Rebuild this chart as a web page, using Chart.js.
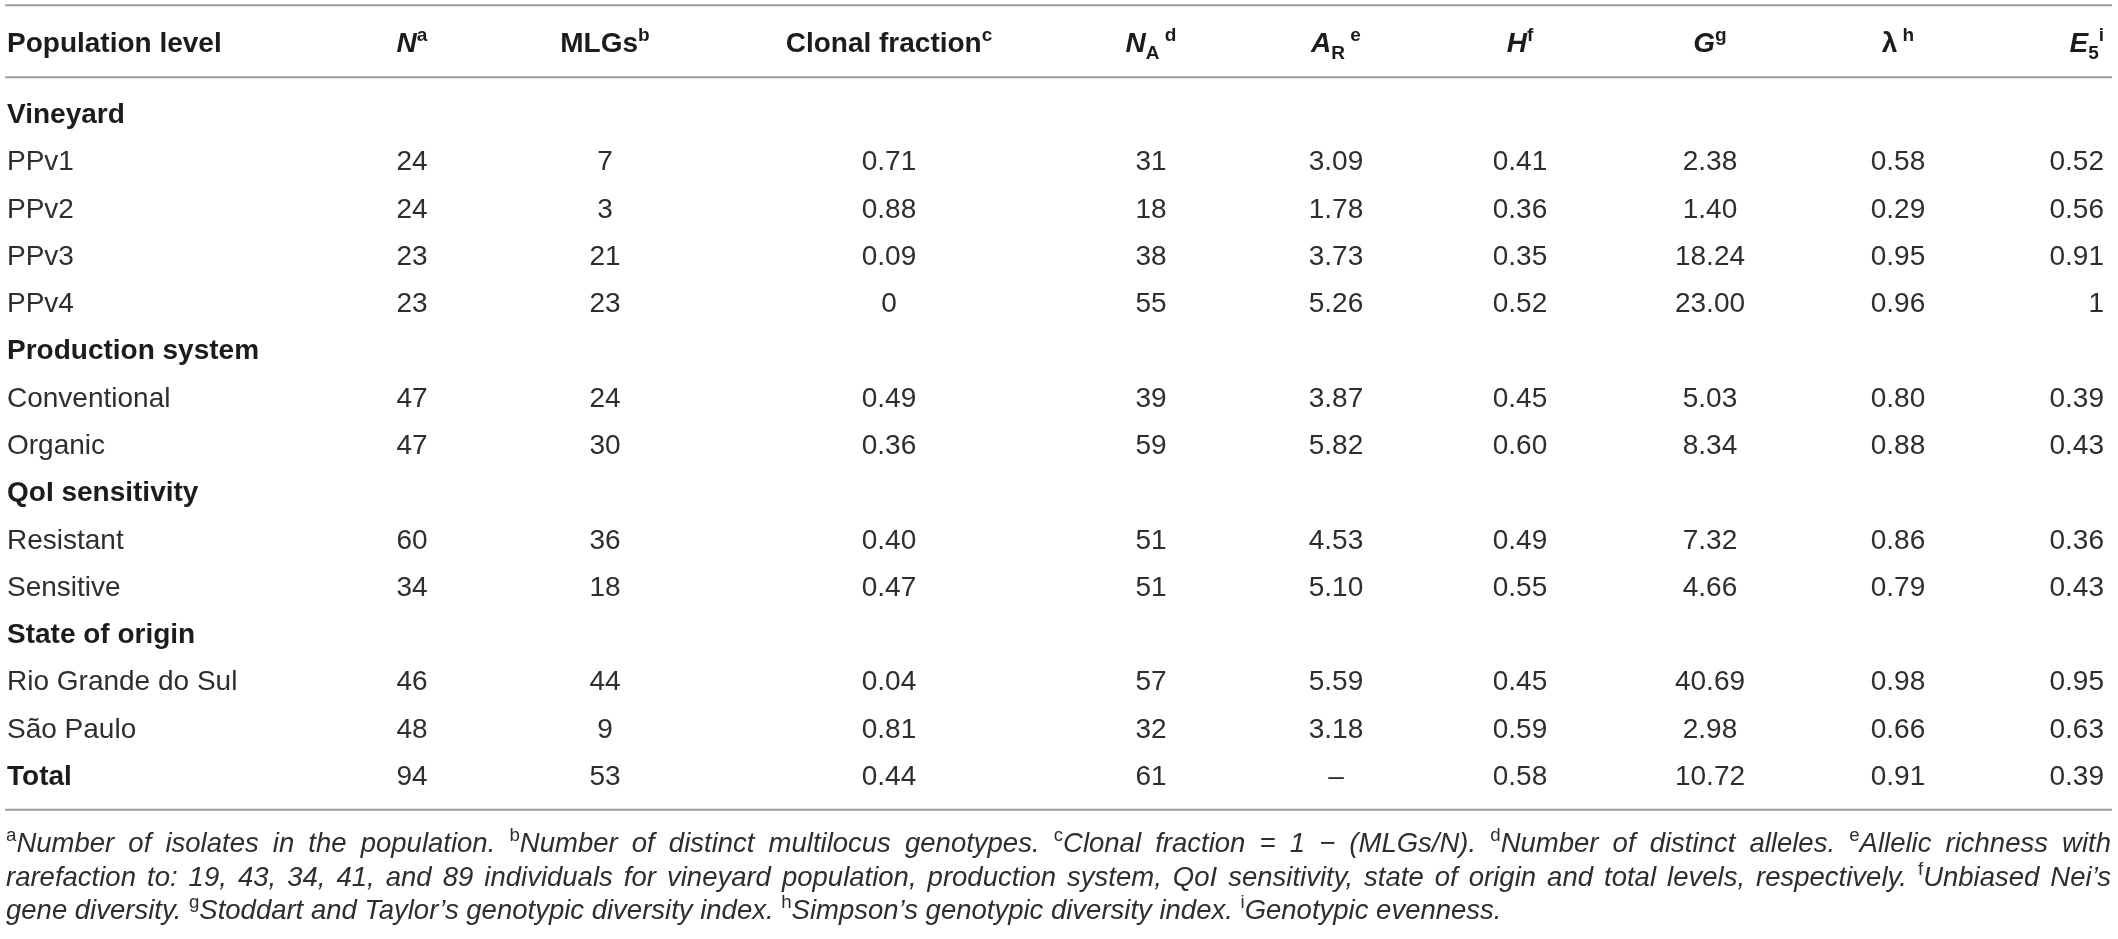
<!DOCTYPE html>
<html>
<head>
<meta charset="utf-8">
<script src="https://cdn.jsdelivr.net/npm/chart.js@4/dist/chart.umd.min.js"></script>
<style>
html,body{margin:0;padding:0;background:#fff;overflow:hidden}
#wrap{width:2118px;height:939px;position:relative}
</style>
</head>
<body>
<div id="wrap"><canvas id="c"></canvas></div>
<script>
// ---- data ----
const rowLabels = ['Vineyard','PPv1','PPv2','PPv3','PPv4','Production system','Conventional','Organic',
  'QoI sensitivity','Resistant','Sensitive','State of origin','Rio Grande do Sul','São Paulo','Total'];
const boldRows = ['Vineyard','Production system','QoI sensitivity','State of origin','Total'];
const N       = [null,24,24,23,23,null,47,47,null,60,34,null,46,48,94];
const MLGs    = [null,7,3,21,23,null,24,30,null,36,18,null,44,9,53];
const clonal  = [null,0.71,0.88,0.09,0,null,0.49,0.36,null,0.40,0.47,null,0.04,0.81,0.44];
const NA      = [null,31,18,38,55,null,39,59,null,51,51,null,57,32,61];
const AR      = [null,3.09,1.78,3.73,5.26,null,3.87,5.82,null,4.53,5.10,null,5.59,3.18,'–'];
const H       = [null,0.41,0.36,0.35,0.52,null,0.45,0.60,null,0.49,0.55,null,0.45,0.59,0.58];
const G       = [null,2.38,1.40,18.24,23.00,null,5.03,8.34,null,7.32,4.66,null,40.69,2.98,10.72];
const lambda  = [null,0.58,0.29,0.95,0.96,null,0.80,0.88,null,0.86,0.79,null,0.98,0.66,0.91];
const E5      = [null,0.52,0.56,0.91,1,null,0.39,0.43,null,0.36,0.43,null,0.95,0.63,0.39];

// ---- layout / style ----
const FAM = '"Liberation Sans", Arial, Helvetica, sans-serif';
const TXT = '#2e2e2e';
const HEAD = '#1c1c1c';
const LINE = '#9c9c9c';
const fInt = v => String(v);
const f2 = v => (typeof v === 'string') ? v : v.toFixed(2);
const fTrim = v => Number.isInteger(v) ? String(v) : v.toFixed(2);

const columns = [
  {vals: N,      fmt: fInt,  pos: 412,  align: 'center',
   head: [{t:'N',w:700,i:true},{t:'a',w:700,s:'sup'}]},
  {vals: MLGs,   fmt: fInt,  pos: 605,  align: 'center',
   head: [{t:'MLGs',w:700},{t:'b',w:700,s:'sup'}]},
  {vals: clonal, fmt: fTrim, pos: 889,  align: 'center',
   head: [{t:'Clonal fraction',w:700},{t:'c',w:700,s:'sup'}]},
  {vals: NA,     fmt: fInt,  pos: 1151, align: 'center',
   head: [{t:'N',w:700,i:true},{t:'A',w:700,s:'sub'},{t:' d',w:700,s:'sup'}]},
  {vals: AR,     fmt: f2,    pos: 1336, align: 'center',
   head: [{t:'A',w:700,i:true},{t:'R',w:700,s:'sub'},{t:' e',w:700,s:'sup'}]},
  {vals: H,      fmt: f2,    pos: 1520, align: 'center',
   head: [{t:'H',w:700,i:true},{t:'f',w:700,s:'sup'}]},
  {vals: G,      fmt: f2,    pos: 1710, align: 'center',
   head: [{t:'G',w:700,i:true},{t:'g',w:700,s:'sup'}]},
  {vals: lambda, fmt: f2,    pos: 1898, align: 'center',
   head: [{t:'λ',w:700},{t:' h',w:700,s:'sup'}]},
  {vals: E5,     fmt: fTrim, pos: 2104, align: 'right',
   head: [{t:'E',w:700,i:true},{t:'5',w:700,s:'sub'},{t:'i',w:700,s:'sup'}]}
];

const footnotes = [
  [{t:'a',s:'sup'},{t:'Number of isolates in the population. '},{t:'b',s:'sup'},{t:'Number of distinct multilocus genotypes. '},
   {t:'c',s:'sup'},{t:'Clonal fraction = 1 − (MLGs/N). '},{t:'d',s:'sup'},{t:'Number of distinct alleles. '},
   {t:'e',s:'sup'},{t:'Allelic richness with'}],
  [{t:'rarefaction to: 19, 43, 34, 41, and 89 individuals for vineyard population, production system, QoI sensitivity, state of origin and total levels, respectively. '},
   {t:'f',s:'sup'},{t:'Unbiased Nei’s'}],
  [{t:'gene diversity. '},{t:'g',s:'sup'},{t:'Stoddart and Taylor’s genotypic diversity index. '},{t:'h',s:'sup'},
   {t:'Simpson’s genotypic diversity index. '},{t:'i',s:'sup'},{t:'Genotypic evenness.'}]
];

function fontOf(seg, size){
  const s = seg.s ? size*0.68 : size;
  return `${seg.i?'italic ':''}${seg.w||400} ${s}px ${FAM}`;
}
function segOffset(seg, size){
  if (seg.s === 'sup') return -size*0.40;
  if (seg.s === 'sub') return size*0.22;
  return 0;
}
function measureRich(ctx, segs, size){
  let w = 0;
  for (const s of segs){ ctx.font = fontOf(s,size); w += ctx.measureText(s.t).width; }
  return w;
}
function drawRich(ctx, segs, x, yBase, align, size, color){
  const w = measureRich(ctx, segs, size);
  let cx = align === 'center' ? x - w/2 : align === 'right' ? x - w : x;
  ctx.fillStyle = color; ctx.textAlign = 'left'; ctx.textBaseline = 'alphabetic';
  for (const s of segs){
    ctx.font = fontOf(s,size);
    ctx.fillText(s.t, cx, yBase + segOffset(s,size));
    cx += ctx.measureText(s.t).width;
  }
}
// justified line (extra room goes into the word gaps; squeeze if too long)
function drawJustified(ctx, segs, x0, x1, yBase, size, color, justify){
  const toks = [];
  for (const s of segs){
    const parts = s.t.split(/( )/);
    for (const p of parts){ if (p === '') continue; toks.push({...s, t:p, space: p === ' '}); }
  }
  while (toks.length && toks[toks.length-1].space) toks.pop();
  let natural = 0, nsp = 0;
  for (const t of toks){ ctx.font = fontOf(t,size); natural += ctx.measureText(t.t).width; if (t.space) nsp++; }
  const sx = natural > (x1 - x0) ? (x1 - x0) / natural : 1;
  natural *= sx;
  const extra = (justify && nsp) ? (x1 - x0 - natural)/nsp : 0;
  let cx = x0;
  ctx.fillStyle = color; ctx.textAlign = 'left'; ctx.textBaseline = 'alphabetic';
  for (const t of toks){
    ctx.font = fontOf(t,size);
    const tw = ctx.measureText(t.t).width*sx;
    if (!t.space){
      ctx.save();
      ctx.translate(cx, yBase + segOffset(t,size));
      ctx.scale(sx, 1);
      ctx.fillText(t.t, 0, 0);
      ctx.restore();
    }
    cx += tw + (t.space ? extra : 0);
  }
}

const tablePlugin = {
  id: 'tablePlugin',
  afterDraw(chart){
    const ctx = chart.ctx;
    const xs = chart.scales.x, ys = chart.scales.y;
    const area = chart.chartArea;
    const dataSize = 28, headSize = 28, footSize = 27.5;
    const capOff = dataSize*0.358;
    const L = xs.getPixelForValue(5), R = xs.getPixelForValue(2112);
    ctx.save();
    // rules
    ctx.strokeStyle = LINE; ctx.lineWidth = 2;
    const rule = y => { ctx.beginPath(); ctx.moveTo(L, y); ctx.lineTo(R, y); ctx.stroke(); };
    rule(area.top - 84);
    rule(area.top - 12);
    rule(area.bottom + 11);
    // header
    const hy = area.top - 47 + headSize*0.358;
    drawRich(ctx, [{t:'Population level', w:700}], xs.getPixelForValue(7), hy, 'left', headSize, HEAD);
    columns.forEach(c => drawRich(ctx, c.head, xs.getPixelForValue(c.pos), hy, c.align, headSize, HEAD));
    // body
    rowLabels.forEach((lab, r) => {
      const y = ys.getPixelForValue(r) + capOff;
      const bold = boldRows.includes(lab);
      drawRich(ctx, [{t:lab, w: bold ? 700 : 400}], xs.getPixelForValue(7), y, 'left', dataSize, bold ? HEAD : TXT);
      columns.forEach(c => {
        const v = c.vals[r];
        if (v === null || v === undefined) return;
        drawRich(ctx, [{t:c.fmt(v), w:400}], xs.getPixelForValue(c.pos), y, c.align, dataSize, TXT);
      });
    });
    // footnotes
    const fb = [area.bottom + 53.5, area.bottom + 87, area.bottom + 120.5];
    footnotes.forEach((segs, k) => {
      const st = segs.map(s => ({...s, i: !s.s, w:400}));
      drawJustified(ctx, st, xs.getPixelForValue(6), xs.getPixelForValue(2111), fb[k], footSize, TXT, k < 2);
    });
    ctx.restore();
  }
};

// cell anchor points (invisible) so the scales carry every cell
const cellPoints = [];
rowLabels.forEach((lab, r) => columns.forEach(c => {
  if (c.vals[r] !== null) cellPoints.push({x: c.pos, y: lab});
}));

const TOP = 113 - 47.3/2, BOTTOM = 775 + 47.3/2;
new Chart(document.getElementById('c'), {
  type: 'scatter',
  data: { datasets: [{ data: cellPoints, pointRadius: 0, pointHoverRadius: 0, showLine: false }] },
  options: {
    responsive: true, maintainAspectRatio: false, animation: false, devicePixelRatio: 1,
    layout: { padding: { top: TOP, bottom: 939 - BOTTOM, left: 0, right: 0 } },
    plugins: { legend: {display:false}, tooltip: {enabled:false} },
    events: [],
    scales: {
      x: { type:'linear', min:0, max:2118, display:false },
      y: { type:'category', labels: rowLabels, offset: true, display:false }
    }
  },
  plugins: [tablePlugin]
});
</script>
</body>
</html>
